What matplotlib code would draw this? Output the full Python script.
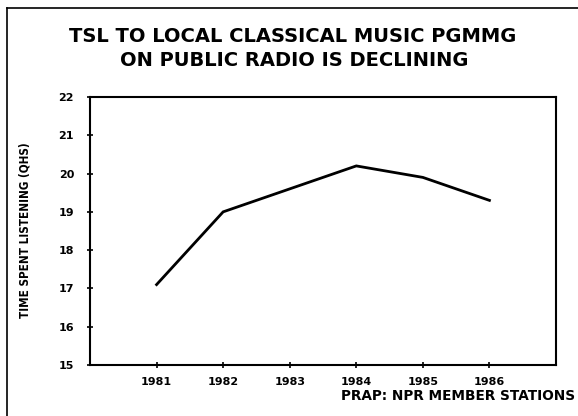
import matplotlib
matplotlib.use("Agg")
import matplotlib.pyplot as plt
from matplotlib.lines import Line2D

years = [1981, 1982, 1983, 1984, 1985, 1986]
tsl = [17.1, 19.0, 19.6, 20.2, 19.9, 19.3]
yticks = [15, 16, 17, 18, 19, 20, 21, 22]
title1 = "TSL TO LOCAL CLASSICAL MUSIC PGMMG"
title2 = "ON PUBLIC RADIO IS DECLINING"
ylabel = "TIME SPENT LISTENING (QHS)"
source = "PRAP: NPR MEMBER STATIONS"

fig = plt.figure(figsize=(5.78, 4.16), dpi=100)
fig.patch.set_facecolor("white")

# outer frame (left and top only)
fig.add_artist(Line2D([7/578, 7/578], [0, 1-8/416], transform=fig.transFigure, color="black", lw=1.2))
fig.add_artist(Line2D([7/578, 1], [1-8/416, 1-8/416], transform=fig.transFigure, color="black", lw=1.2))

ax = fig.add_axes([90/578, 1-365/416, (556-90)/578, (365-97)/416])
ax.plot(years, tsl, color="black", lw=2.0, solid_joinstyle="miter")
ax.set_xlim(1980, 1987)
ax.set_ylim(15, 22)
ax.set_xticks(years)
ax.set_yticks(yticks)
ax.set_xticklabels([str(y) for y in years], fontsize=8, fontweight="bold", family="DejaVu Sans")
ax.set_yticklabels([str(v) for v in yticks], fontsize=8, fontweight="bold", family="DejaVu Sans")
ax.tick_params(axis="both", direction="inout", length=5, width=1.2)
ax.tick_params(axis="x", pad=6)
ax.tick_params(axis="y", pad=9)
for s in ax.spines.values():
    s.set_linewidth(1.5)

fig.text(293/578, 1-36.5/416, title1, ha="center", va="center", fontsize=14,
         fontweight="bold", family="DejaVu Sans")
fig.text(294/578, 1-61/416, title2, ha="center", va="center", fontsize=14,
         fontweight="bold", family="DejaVu Sans")
fig.text(25/578, 1-230/416, ylabel, rotation=90, ha="center", va="center",
         fontsize=8.4, fontweight="bold", family="DejaVu Sans", fontstretch="condensed")
fig.text(575/578, 1-396/416, source, ha="right", va="center", fontsize=9.8,
         fontweight="bold", family="DejaVu Sans")

fig.savefig("out.png", dpi=100, facecolor="white")
